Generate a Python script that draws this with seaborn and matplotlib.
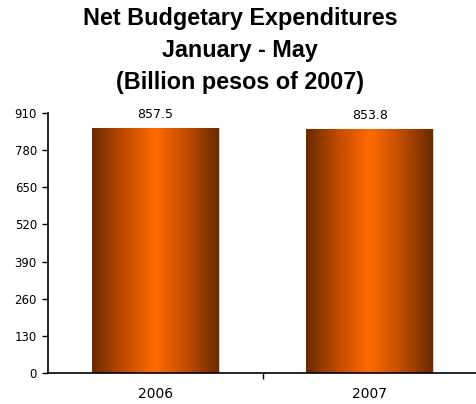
import numpy as np
import pandas as pd
import matplotlib
matplotlib.use("Agg")
import matplotlib.pyplot as plt
import seaborn as sns
from matplotlib.colors import LinearSegmentedColormap

years = ["2006", "2007"]
values = [857.5, 853.8]
value_labels = ["857.5", "853.8"]
yticks = [0, 130, 260, 390, 520, 650, 780, 910]

sns.set_theme(style="white")
plt.rcParams['font.family'] = ['DejaVu Sans']
plt.rcParams['text.color'] = 'black'
plt.rcParams['xtick.color'] = 'black'
plt.rcParams['ytick.color'] = 'black'

fig = plt.figure(figsize=(4.77, 4.04), dpi=100)
ax = fig.add_axes([48/477, 31/404, 429/477, 260/404])

df = pd.DataFrame({"year": years, "value": values})
sns.barplot(data=df, x="year", y="value", color="#FF6600", width=0.59, ax=ax,
            edgecolor="#F0C8B0", linewidth=0.8)

cmap = LinearSegmentedColormap.from_list("g", ["#6A2A00", "#C04C00", "#FF6A00", "#C04C00", "#6A2A00"])
grad = np.linspace(0, 1, 256).reshape(1, -1)
for p in ax.patches:
    x0, y0 = p.get_x(), p.get_y()
    w, h = p.get_width(), p.get_height()
    im = ax.imshow(grad, cmap=cmap, extent=[x0, x0 + w, y0, y0 + h],
                   aspect="auto", zorder=p.get_zorder() + 0.1, interpolation="bicubic")
    im.set_clip_path(p)

ax.set_xlim(-0.5, 1.5)
ax.set_ylim(0, 910)
ax.set_yticks(yticks)
ax.set_yticklabels([str(t) for t in yticks], fontsize=8.5)
ax.set_xticks([0, 1])
ax.set_xticklabels(years, fontsize=10)
ax.set_xticks([0.5], minor=True)
ax.tick_params(axis="x", which="major", length=0, pad=10)
ax.tick_params(axis="x", which="minor", length=4, width=1, direction="out", color="black", bottom=True)
ax.tick_params(axis="y", length=4, width=1, direction="out", color="black", left=True, pad=4)
ax.set_xlabel("")
ax.set_ylabel("")
for s in ["top", "right"]:
    ax.spines[s].set_visible(False)
for s in ["left", "bottom"]:
    ax.spines[s].set_color("black")
    ax.spines[s].set_linewidth(1.2)

for i, (v, lab) in enumerate(zip(values, value_labels)):
    ax.annotate(lab, (i, v), xytext=(0, 7.5), textcoords="offset points",
                ha="center", va="baseline", fontsize=9, color="black")

fig.text(0.503, 1 - 7/404, "Net Budgetary Expenditures\nJanuary - May\n(Billion pesos of 2007)",
         ha="center", va="top", fontsize=16.8, fontweight="bold", linespacing=1.5,
         family=['Liberation Sans', 'DejaVu Sans'], color="black")

fig.savefig("out.png", dpi=100)
